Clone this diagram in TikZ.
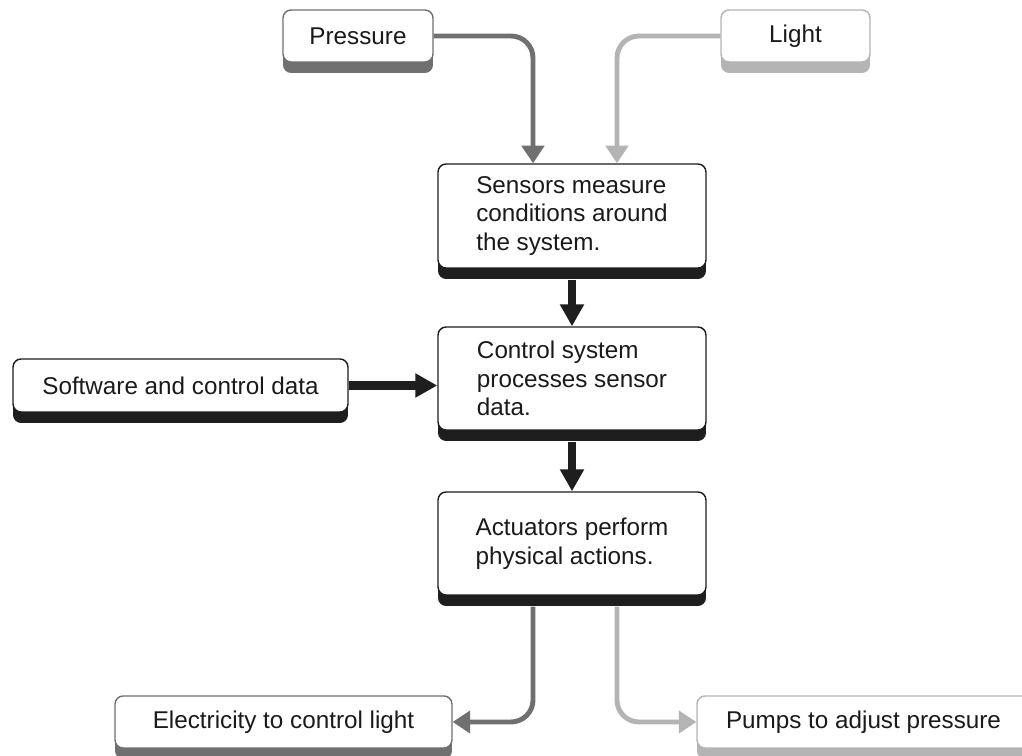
\documentclass[tikz,border=0pt]{standalone}
\usepackage{fontspec}
\setmainfont{Liberation Sans}
\usepackage{xcolor}
\usepackage{tikz}
\usetikzlibrary{arrows.meta}
\usetikzlibrary{shadows}

\definecolor{boxblack}{HTML}{1E1E1E}
\definecolor{boxdark}{HTML}{707070}
\definecolor{boxlight}{HTML}{B4B4B4}
\definecolor{inktext}{HTML}{1A1A1A}

\tikzset{
  flowbox/.style={draw=#1, fill=white, rounded corners=0.16cm, line width=0.8pt,
    inner sep=0pt, text=inktext,
    font=\fontsize{13.8}{16.4}\selectfont,
    drop shadow={shadow xshift=0pt, shadow yshift=-0.22cm, fill=#1, opacity=1}},
  blackbox/.style={flowbox=boxblack, minimum width=5.36cm, align=left},
  darkbox/.style={flowbox=boxdark, align=center},
  lightbox/.style={flowbox=boxlight, align=center},
  thickarrow/.style={draw=boxblack, line width=5pt,
    -{Triangle[length=12.5pt,width=13pt]}},
  darkarrow/.style={draw=boxdark, line width=2.8pt, rounded corners=0.44cm,
    -{Triangle[length=10pt,width=12.5pt]}},
  lightarrow/.style={draw=boxlight, line width=2.8pt, rounded corners=0.44cm,
    -{Triangle[length=10pt,width=12.5pt]}}
}

\begin{document}
\begin{tikzpicture}[x=0.02cm,y=-0.02cm]
    \clip (0,0) rectangle (1022,756);
    \fill[white] (0,0) rectangle (1022,756);

    % inputs
    \node[darkbox, minimum width=3cm, minimum height=1.04cm] (pressure) at (358,36) {Pressure};
    \node[lightbox, minimum width=2.98cm, minimum height=1.04cm] (light) at (795.5,36) {Light};
    \node[flowbox=boxblack, minimum width=6.7cm, minimum height=1.06cm, align=center] (software) at (180.5,385.5) {Software and control data};

    % main chain
    \node[blackbox, minimum height=2.08cm] (sensors) at (572,216) {Sensors measure\\conditions around\\the system.};
    \node[blackbox, minimum height=2.06cm] (control) at (572,378.5) {Control system\\processes sensor\\data.};
    \node[blackbox, minimum height=2.06cm] (actuators) at (572,543.5) {Actuators perform\\physical actions.};

    % outputs
    \node[darkbox, minimum width=6.74cm, minimum height=1.04cm] (electricity) at (283.5,722) {Electricity to control light};
    \node[lightbox, minimum width=6.66cm, minimum height=1.04cm] (pumps) at (863.5,722) {Pumps to adjust pressure};

    \draw[darkarrow] (pressure.east) -| ([xshift=-0.78cm]sensors.north);
    \draw[lightarrow] (light.west) -| ([xshift=0.9cm]sensors.north);
    \draw[thickarrow] ([yshift=-0.22cm]sensors.south) -- (control.north);
    \draw[thickarrow] (software.east) -- (software.east -| control.west);
    \draw[thickarrow] ([yshift=-0.22cm]control.south) -- (actuators.north);
    \draw[darkarrow] ([xshift=-0.78cm,yshift=-0.22cm]actuators.south) |- (electricity.east);
    \draw[lightarrow] ([xshift=0.9cm,yshift=-0.22cm]actuators.south) |- (pumps.west);
\end{tikzpicture}
\end{document}
